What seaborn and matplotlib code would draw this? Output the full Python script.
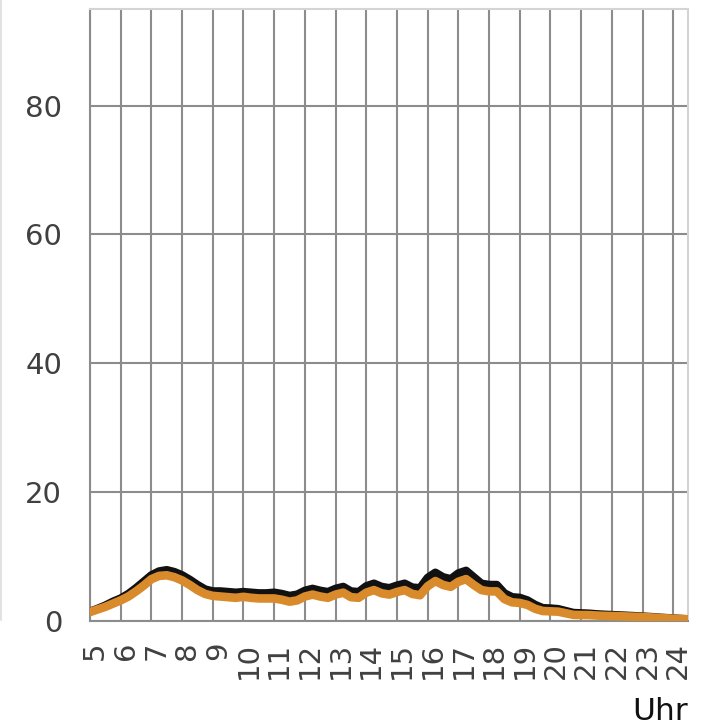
import numpy as np
import pandas as pd
import matplotlib
matplotlib.use("Agg")
import matplotlib.pyplot as plt
import matplotlib.transforms as mtransforms
from matplotlib.lines import Line2D
import seaborn as sns

# quarter-hour time axis, 5:00 .. 24:30
hours = [5 + 0.25 * i for i in range(79)]

serie_schwarz = [
    1.45, 1.9, 2.4, 3.0, 3.5, 4.2, 5.1, 6.1, 7.1, 7.7, 7.9, 7.6,
    7.1, 6.4, 5.6, 4.9, 4.6, 4.6, 4.5, 4.4, 4.5, 4.4, 4.3, 4.3,
    4.4, 4.2, 3.9, 4.1, 4.7, 5.0, 4.7, 4.5, 5.0, 5.3, 4.6, 4.5,
    5.4, 5.8, 5.3, 5.1, 5.5, 5.8, 5.2, 5.1, 6.7, 7.5, 6.8, 6.5,
    7.4, 7.8, 6.8, 5.8, 5.6, 5.6, 4.3, 3.7, 3.6, 3.2, 2.5, 2.0,
    1.95, 1.85, 1.55, 1.25, 1.2, 1.15, 1.05, 0.98, 0.93, 0.88, 0.82, 0.76,
    0.70, 0.63, 0.54, 0.47, 0.40, 0.33, 0.27,
]

serie_orange = [
    1.4, 1.8, 2.2, 2.7, 3.2, 3.8, 4.6, 5.5, 6.5, 7.0, 7.1, 6.8,
    6.3, 5.6, 4.8, 4.2, 3.9, 3.8, 3.7, 3.6, 3.75, 3.6, 3.5, 3.5,
    3.5, 3.3, 3.0, 3.2, 3.8, 4.1, 3.8, 3.6, 4.1, 4.4, 3.7, 3.6,
    4.4, 4.8, 4.3, 4.1, 4.5, 4.8, 4.2, 4.0, 5.4, 6.2, 5.6, 5.3,
    6.1, 6.5, 5.6, 4.8, 4.6, 4.6, 3.4, 2.9, 2.8, 2.5, 1.9, 1.55,
    1.5, 1.45, 1.2, 0.95, 0.93, 0.92, 0.85, 0.8, 0.78, 0.74, 0.70, 0.66,
    0.62, 0.56, 0.48, 0.42, 0.36, 0.30, 0.25,
]

tick_hours = list(range(5, 25))
y_ticks = [0, 20, 40, 60, 80]

df = pd.DataFrame({"Uhr": hours, "schwarz": serie_schwarz, "orange": serie_orange})

sns.set_theme(style="white")
plt.rcParams["font.family"] = ["DejaVu Sans"]

W, H = 701, 726
fig = plt.figure(figsize=(W / 100, H / 100), dpi=100)
ax = fig.add_axes([90 / W, 1 - 621 / H, (688 - 90) / W, (621 - 9) / H])

grid_col = "#8c8c8c"
text_col = "#404040"

sns.lineplot(data=df, x="Uhr", y="schwarz", ax=ax, color="#111111", lw=6,
             solid_capstyle="round", solid_joinstyle="round", zorder=3)
sns.lineplot(data=df, x="Uhr", y="orange", ax=ax, color="#d98a2b", lw=6.2,
             solid_capstyle="round", solid_joinstyle="round", zorder=4)

ax.set_xlim(5, 24.48)
ax.set_ylim(0, 95)
ax.set_xticks(tick_hours)
ax.set_xticklabels([str(h) for h in tick_hours], rotation=90)
ax.set_yticks(y_ticks)
ax.set_xlabel("")
ax.set_ylabel("")

ax.grid(True, axis="both", color=grid_col, lw=1.5)
ax.set_axisbelow(True)
ax.tick_params(axis="both", length=0, labelsize=21, labelcolor=text_col)
ax.tick_params(axis="y", pad=20)
ax.tick_params(axis="x", pad=15)

# shift the hour labels a little to the right
offset = mtransforms.ScaledTranslation(5 / 100, 0, fig.dpi_scale_trans)
for lab in ax.get_xticklabels():
    lab.set_transform(lab.get_transform() + offset)

for side in ["left", "bottom"]:
    ax.spines[side].set_color(grid_col)
    ax.spines[side].set_linewidth(1.5)
for side in ["top", "right"]:
    ax.spines[side].set_color("#d4d4d4")
    ax.spines[side].set_linewidth(1.5)

fig.text(688 / W, 1 - 712 / H, "Uhr", ha="right", va="center",
         fontsize=22.5, color="#111111")

# faint frame line at the left edge
fig.add_artist(Line2D([1 / W, 1 / W], [1, 1 - 620 / H], transform=fig.transFigure,
                      color="#e2e2e2", lw=1.5))

fig.savefig("out.png", dpi=100)
